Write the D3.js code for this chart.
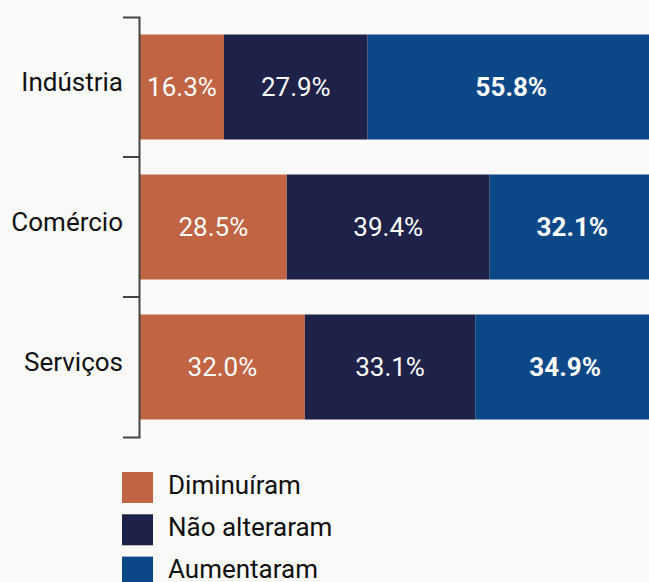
<!DOCTYPE html>
<html>
<head>
<meta charset="utf-8">
<script src="https://cdn.jsdelivr.net/npm/d3@7"></script>
<style>
  html, body { margin: 0; padding: 0; background: #f9f9f7; }
  svg { display: block; font-family: Roboto, "Noto Sans", sans-serif; }
</style>
</head>
<body>
<div id="chart"></div>
<script>
// categorias e séries
var setores = ["Indústria", "Comércio", "Serviços"];
var series = ["Diminuíram", "Não alteraram", "Aumentaram"];
var diminuiram = [16.3, 28.5, 32.0];
var naoAlteraram = [27.9, 39.4, 33.1];
var aumentaram = [55.8, 32.1, 34.9];

var cores = ["#c06444", "#1f2248", "#0c4788"];

var width = 649, height = 582;

var svg = d3.select("#chart").append("svg")
    .attr("width", width)
    .attr("height", height);

// tabela para o stack
var tabela = setores.map(function(s, i) {
  return {setor: s, "Diminuíram": diminuiram[i], "Não alteraram": naoAlteraram[i], "Aumentaram": aumentaram[i]};
});
var stacked = d3.stack().keys(series)(tabela);

var x = d3.scaleLinear().domain([0, 100]).range([140, 655]);
var y = d3.scaleBand().domain(setores).range([17, 437])
    .paddingInner(0.25).paddingOuter(0.125);
var color = d3.scaleOrdinal().domain(series).range(cores);

// barras
var grupos = svg.append("g").selectAll("g")
    .data(stacked)
    .enter().append("g")
    .attr("fill", function(d) { return color(d.key); });

grupos.selectAll("rect")
    .data(function(d) { return d; })
    .enter().append("rect")
    .attr("x", function(d) { return x(d[0]); })
    .attr("y", function(d) { return y(d.data.setor); })
    .attr("width", function(d) { return x(d[1]) - x(d[0]); })
    .attr("height", y.bandwidth());

// rótulos de valor
grupos.selectAll("text")
    .data(function(d) { d.forEach(function(p) { p.key = d.key; }); return d; })
    .enter().append("text")
    .attr("x", function(d) { return (x(d[0]) + x(d[1])) / 2; })
    .attr("y", function(d) { return y(d.data.setor) + y.bandwidth() / 2; })
    .attr("dy", "0.33em")
    .attr("text-anchor", "middle")
    .attr("fill", "#ffffff")
    .style("font-size", "26px")
    .style("font-weight", function(d) { return d.key === "Aumentaram" ? 700 : 400; })
    .text(function(d) { return (d[1] - d[0]).toFixed(1) + "%"; });

// eixo y
var yAxis = d3.axisLeft(y).tickSize(0).tickSizeOuter(16).tickPadding(16);
var eixo = svg.append("g")
    .attr("transform", "translate(139,0)")
    .call(yAxis);
eixo.select(".domain").attr("stroke", "#444").attr("stroke-width", 2);
eixo.selectAll(".tick text")
    .attr("dy", "0.15em")
    .attr("fill", "#111")
    .style("font-size", "26px")
    .style("font-family", "Roboto, sans-serif");

// marcas entre categorias
eixo.selectAll(".sep")
    .data(setores.slice(1))
    .enter().append("line")
    .attr("class", "sep")
    .attr("x1", -16).attr("x2", 0)
    .attr("y1", function(d) { return y(d) - y.step() * y.paddingInner() / 2; })
    .attr("y2", function(d) { return y(d) - y.step() * y.paddingInner() / 2; })
    .attr("stroke", "#444").attr("stroke-width", 2);

// legenda
var legenda = svg.append("g").attr("transform", "translate(122,472)");
var item = legenda.selectAll("g")
    .data(series)
    .enter().append("g")
    .attr("transform", function(d, i) { return "translate(0," + (i * 42.3) + ")"; });
item.append("rect")
    .attr("width", 31).attr("height", 31)
    .attr("fill", function(d) { return color(d); });
item.append("text")
    .attr("x", 46).attr("y", 15.5)
    .attr("dy", "0.24em")
    .attr("fill", "#111")
    .style("font-size", "26px")
    .text(function(d) { return d; });
</script>
</body>
</html>
